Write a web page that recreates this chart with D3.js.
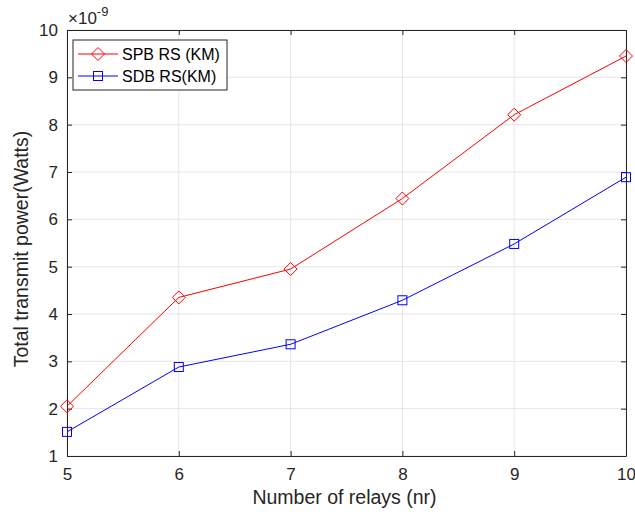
<!DOCTYPE html>
<html>
<head>
<meta charset="utf-8">
<style>
  body { margin: 0; background: #fff; }
  svg { font-family: "Liberation Sans", Arial, sans-serif; }
  .grid line { stroke: #e6e6e6; stroke-width: 1; }
  .axis path, .axis line { stroke: #262626; }
  .axis text { fill: #262626; font-size: 17px; }
</style>
</head>
<body>
<svg width="635" height="515"></svg>
<script src="https://cdn.jsdelivr.net/npm/d3@7"></script>
<script>

var relays = [5, 6, 7, 8, 9, 10];
var spb = [2.05, 4.35, 4.95, 6.44, 8.21, 9.45];
var sdb = [1.51, 2.88, 3.36, 4.29, 5.48, 6.89];
var yTicks = [1, 2, 3, 4, 5, 6, 7, 8, 9, 10];
var seriesNames = ["SPB RS (KM)", "SDB RS(KM)"];

var svg = d3.select("svg"),
    margin = {top: 30, right: 9, bottom: 59, left: 67},
    width = +svg.attr("width") - margin.left - margin.right,
    height = +svg.attr("height") - margin.top - margin.bottom,
    g = svg.append("g").attr("transform", "translate(" + margin.left + "," + margin.top + ")");

var x = d3.scaleLinear().domain([5, 10]).range([0, width]);
var y = d3.scaleLinear().domain([1, 10]).range([height, 0]);

// grid
g.append("g").attr("class", "grid")
  .selectAll("line").data(relays).enter().append("line")
    .attr("x1", function(d) { return x(d); }).attr("x2", function(d) { return x(d); })
    .attr("y1", 0).attr("y2", height);
g.append("g").attr("class", "grid")
  .selectAll("line").data(yTicks).enter().append("line")
    .attr("y1", function(d) { return y(d); }).attr("y2", function(d) { return y(d); })
    .attr("x1", 0).attr("x2", width);

// axes (ticks inward, box)
g.append("g").attr("class", "axis")
    .attr("transform", "translate(0," + height + ")")
    .call(d3.axisBottom(x).tickValues(relays).tickFormat(d3.format("d")).tickSizeInner(-5).tickSizeOuter(0).tickPadding(12));
g.append("g").attr("class", "axis")
    .call(d3.axisLeft(y).tickValues(yTicks).tickFormat(d3.format("d")).tickSizeInner(-5).tickSizeOuter(0).tickPadding(9));
g.append("g").attr("class", "axis")
    .call(d3.axisTop(x).tickValues(relays).tickSizeInner(-5).tickSizeOuter(0).tickFormat(""));
g.append("g").attr("class", "axis")
    .attr("transform", "translate(" + width + ",0)")
    .call(d3.axisRight(y).tickValues(yTicks).tickSizeInner(-5).tickSizeOuter(0).tickFormat(""));

// exponent
var ex = svg.append("text")
    .attr("x", margin.left + 1)
    .attr("y", 24)
    .attr("fill", "#262626")
    .attr("font-size", 17);
ex.append("tspan").text("\u00d710");
ex.append("tspan").attr("dy", -8).attr("font-size", 13).text("-9");

// labels
svg.append("text")
    .attr("x", margin.left + width / 2 - 2)
    .attr("y", 504)
    .attr("text-anchor", "middle")
    .attr("fill", "#262626")
    .attr("font-size", 19.5)
    .text("Number of relays (nr)");
svg.append("text")
    .attr("transform", "translate(28," + (margin.top + height / 2 + 6) + ") rotate(-90)")
    .attr("text-anchor", "middle")
    .attr("fill", "#262626")
    .attr("font-size", 19.5)
    .text("Total transmit power(Watts)");

var line = d3.line()
    .x(function(d, i) { return x(relays[i]); })
    .y(function(d) { return y(d); });

function diamond(sel, cx, cy, r) {
  sel.append("path")
    .attr("d", "M" + cx + "," + (cy - r) + "L" + (cx + r) + "," + cy + "L" + cx + "," + (cy + r) + "L" + (cx - r) + "," + cy + "Z")
    .attr("fill", "none").attr("stroke", "red").attr("stroke-width", 1);
}
function square(sel, cx, cy, r) {
  sel.append("rect")
    .attr("x", cx - r).attr("y", cy - r).attr("width", 2 * r).attr("height", 2 * r)
    .attr("fill", "none").attr("stroke", "blue").attr("stroke-width", 1);
}

g.append("path").datum(spb).attr("d", line).attr("fill", "none").attr("stroke", "red").attr("stroke-width", 1);
g.append("path").datum(sdb).attr("d", line).attr("fill", "none").attr("stroke", "blue").attr("stroke-width", 1);

var mk = g.append("g");
spb.forEach(function(d, i) { diamond(mk, x(relays[i]), y(d), 6.5); });
sdb.forEach(function(d, i) { square(mk, x(relays[i]), y(d), 4.5); });

// legend
var lg = svg.append("g").attr("transform", "translate(73,40)");
lg.append("rect").attr("width", 154).attr("height", 50)
    .attr("fill", "#fff").attr("stroke", "#262626").attr("stroke-width", 1);
lg.append("line").attr("x1", 5).attr("x2", 45).attr("y1", 14).attr("y2", 14).attr("stroke", "red");
diamond(lg, 25, 14, 6.5);
lg.append("line").attr("x1", 5).attr("x2", 45).attr("y1", 36).attr("y2", 36).attr("stroke", "blue");
square(lg, 25, 36, 4.5);
lg.selectAll("text.l").data(seriesNames).enter().append("text")
    .attr("x", 49)
    .attr("y", function(d, i) { return 14 + i * 22; })
    .attr("dy", "0.35em")
    .attr("font-size", 16)
    .attr("fill", "#000")
    .text(function(d) { return d; });

</script>
</body>
</html>
